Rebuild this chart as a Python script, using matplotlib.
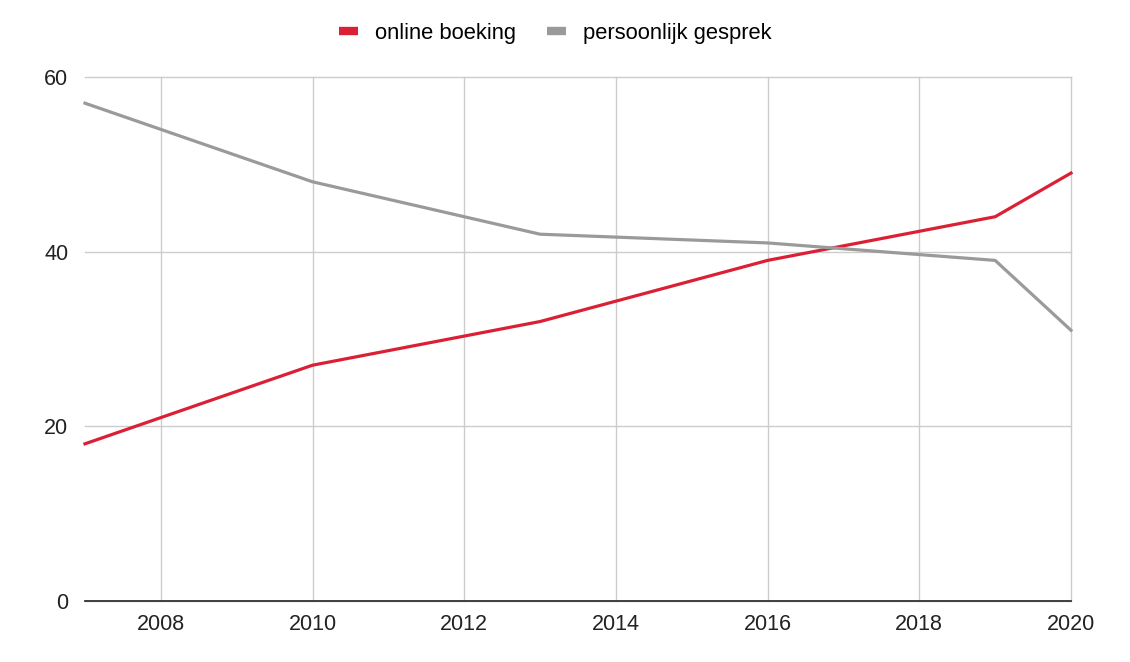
import matplotlib
matplotlib.use("Agg")
import matplotlib.pyplot as plt
from matplotlib.lines import Line2D

years = [2007, 2010, 2013, 2016, 2019, 2020]
online_boeking = [18, 27, 32, 39, 44, 49]
persoonlijk_gesprek = [57, 48, 42, 41, 39, 31]
series_names = ["online boeking", "persoonlijk gesprek"]
x_ticks = [2008, 2010, 2012, 2014, 2016, 2018, 2020]
y_ticks = [0, 20, 40, 60]

plt.rcParams['font.family'] = ['Liberation Sans', 'DejaVu Sans']

fig = plt.figure(figsize=(11.3, 6.62), dpi=100)
ax = fig.add_axes([85/1130, 61/662, (1071-85)/1130, (601-77)/662])

red = "#DB2035"
gray = "#9A9A9A"
ax.plot(years, online_boeking, color=red, lw=2.3, solid_joinstyle='round', zorder=3, clip_on=False)
ax.plot(years, persoonlijk_gesprek, color=gray, lw=2.3, solid_joinstyle='round', zorder=3, clip_on=False)

ax.set_xlim(2007, 2020)
ax.set_ylim(0, 60)
ax.set_xticks(x_ticks)
ax.set_yticks(y_ticks)
ax.grid(True, color="#CCCCCC", lw=1.0, zorder=0)
for gl in ax.get_xgridlines() + ax.get_ygridlines():
    gl.set_clip_on(False)
for s in ["left", "right", "top"]:
    ax.spines[s].set_visible(False)
ax.spines["bottom"].set_color("#333333")
ax.spines["bottom"].set_linewidth(1.3)
ax.spines["bottom"].set_zorder(4)
ax.tick_params(axis='both', length=0, labelsize=15.5, colors="#222222")
ax.tick_params(axis='x', pad=9)
ax.tick_params(axis='y', pad=12)

handles = [Line2D([], [], color=red, lw=6, solid_capstyle='butt'),
           Line2D([], [], color=gray, lw=6, solid_capstyle='butt')]
fig.legend(handles, series_names, loc='center', bbox_to_anchor=(0.5 - 10/1130, 1 - 33/662), ncol=2,
           frameon=False, fontsize=15.8, handlelength=0.9, handletextpad=0.75, columnspacing=1.4)

fig.savefig("out.png", dpi=100)
